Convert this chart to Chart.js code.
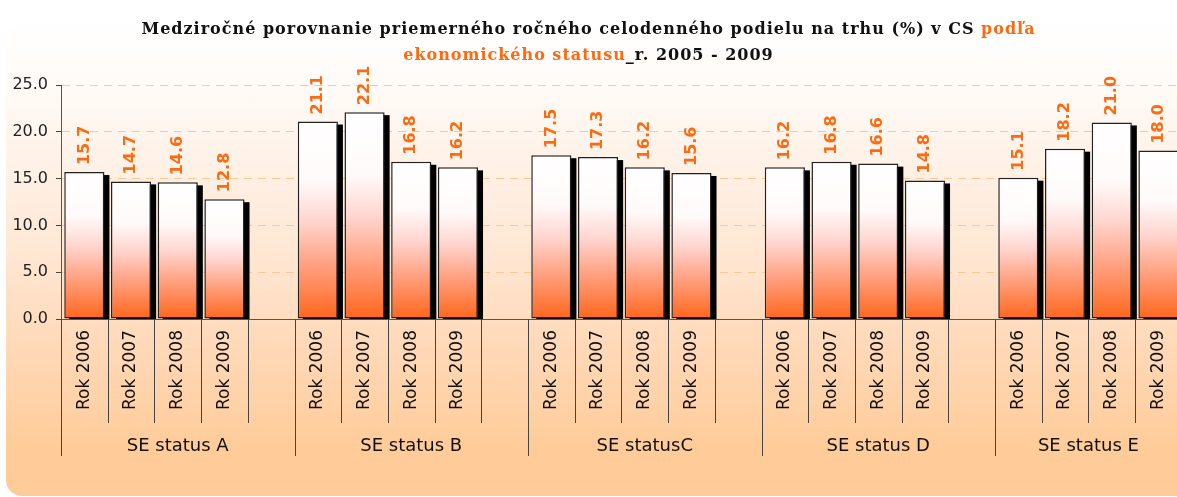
<!DOCTYPE html>
<html lang="sk">
<head>
<meta charset="utf-8">
<script src="https://cdn.jsdelivr.net/npm/chart.js@4.4.1/dist/chart.umd.min.js"></script>
<style>
    html, body { margin: 0; padding: 0; background: #fff; }
    body { width: 1177px; height: 497px; overflow: hidden; position: relative; }
    #panel {
        position: absolute; left: 6px; top: 22px; width: 1220px; height: 474px;
        border-radius: 16px;
        background: linear-gradient(to bottom, #ffffff 0%, #fffaf6 15%, #ffe6d2 50%, #ffd8b6 70%, #ffcc99 90%, #ffcb98 100%);
    }
    #title {
        position: absolute; left: 0; top: 16px; width: 1177px; text-align: center;
        font: bold 16px 'DejaVu Serif', serif; line-height: 26px; color: #111;
        letter-spacing: 1px;
    }
    #title .hl { color: #ff6a10; }
    #wrap { position: absolute; left: 0; top: 0; width: 1190px; height: 497px; }
</style>
</head>
<body>
<div id="panel"></div>
<div id="wrap"><canvas id="statusChart"></canvas></div>
<div id="title">Medziročné porovnanie priemerného ročného celodenného podielu na trhu (%) v CS <span class="hl">podľa</span><br><span class="hl">ekonomického statusu</span>_r. 2005 - 2009</div>
<script>
// Données
const groups = ['SE status A', 'SE status B', 'SE statusC', 'SE status D', 'SE status E'];
const years = ['Rok 2006', 'Rok 2007', 'Rok 2008', 'Rok 2009'];
const statusA = [15.7, 14.7, 14.6, 12.8];
const statusB = [21.1, 22.1, 16.8, 16.2];
const statusC = [17.5, 17.3, 16.2, 15.6];
const statusD = [16.2, 16.8, 16.6, 14.8];
const statusE = [15.1, 18.2, 21.0, 18.0];
const yTicks = [0, 5, 10, 15, 20, 25];

const groupValues = [statusA, statusB, statusC, statusD, statusE];

// 4 barres par groupe + un emplacement vide entre les groupes
const labels = [];
const values = [];
groupValues.forEach((vals, g) => {
    years.forEach((y, i) => { labels.push(y); values.push(vals[i]); });
    if (g < groupValues.length - 1) { labels.push(''); values.push(null); }
});

function barGradient(context) {
    const chart = context.chart;
    if (!chart.chartArea || context.raw == null) return '#ffffff';
    const yScale = chart.scales.y;
    const top = yScale.getPixelForValue(context.raw);
    const bottom = yScale.getPixelForValue(0);
    const g = chart.ctx.createLinearGradient(0, top, 0, bottom);
    g.addColorStop(0, '#ffffff');
    g.addColorStop(0.3, '#fffafa');
    g.addColorStop(0.5, '#ffd6d0');
    g.addColorStop(0.72, '#ffa282');
    g.addColorStop(1, '#ff661c');
    return g;
}

// Ombre noire décalée derrière les barres
const shadowPlugin = {
    id: 'barShadow',
    beforeDatasetsDraw(chart) {
        const { ctx, chartArea } = chart;
        const meta = chart.getDatasetMeta(0);
        ctx.save();
        ctx.beginPath();
        ctx.rect(chartArea.left, chartArea.top, chartArea.right - chartArea.left, chartArea.bottom - chartArea.top);
        ctx.clip();
        ctx.fillStyle = '#000';
        meta.data.forEach((bar, i) => {
            if (values[i] == null) return;
            const p = bar.getProps(['x', 'y', 'base', 'width'], true);
            ctx.fillRect(p.x - p.width / 2 + 5, p.y + 3, p.width, p.base - p.y);
        });
        ctx.restore();
    }
};

// Valeurs au-dessus des barres, en vertical
const valueLabels = {
    id: 'valueLabels',
    afterDatasetsDraw(chart) {
        const { ctx } = chart;
        const meta = chart.getDatasetMeta(0);
        ctx.save();
        ctx.font = 'bold 16px "DejaVu Sans"';
        ctx.fillStyle = '#ff6a10';
        ctx.textAlign = 'left';
        ctx.textBaseline = 'middle';
        meta.data.forEach((bar, i) => {
            if (values[i] == null) return;
            ctx.save();
            ctx.translate(bar.x, bar.y - 7);
            ctx.rotate(-Math.PI / 2);
            ctx.fillText(values[i].toFixed(1), 0, 0);
            ctx.restore();
        });
        ctx.restore();
    }
};

// Séparateurs verticaux et libellés de groupe sous l'axe X
const groupAxis = {
    id: 'groupAxis',
    afterDraw(chart) {
        const { ctx, chartArea } = chart;
        const slot = (chartArea.right - chartArea.left) / labels.length;
        const y0 = chartArea.bottom;
        ctx.save();
        ctx.strokeStyle = '#444';
        ctx.lineWidth = 1;
        for (let k = 0; k <= labels.length; k++) {
            const x = Math.round(chartArea.left + k * slot) + 0.5;
            ctx.beginPath();
            ctx.moveTo(x, y0);
            ctx.lineTo(x, k % 5 === 0 ? 456 : 423);
            ctx.stroke();
        }
        ctx.font = '18px "DejaVu Sans"';
        ctx.fillStyle = '#111';
        ctx.textAlign = 'center';
        ctx.textBaseline = 'middle';
        groups.forEach((name, g) => {
            const a = chartArea.left + g * 5 * slot;
            const b = chartArea.left + Math.min(g * 5 + 5, labels.length) * slot;
            ctx.fillText(name, (a + b) / 2, 446);
        });
        ctx.restore();
    }
};

const chartConfig = {
    type: 'bar',
    data: {
        labels: labels,
        datasets: [{
            data: values,
            backgroundColor: barGradient,
            borderColor: '#222',
            borderWidth: 1.5,
            borderSkipped: false,
            barPercentage: 0.86,
            categoryPercentage: 1.0
        }]
    },
    options: {
        responsive: false,
        animation: false,
        layout: { padding: { top: 85, right: 7, left: 0, bottom: 0 } },
        plugins: {
            legend: { display: false },
            tooltip: { enabled: false },
            title: { display: false }
        },
        scales: {
            x: {
                grid: { display: false, drawTicks: false },
                border: { display: true, color: '#555', width: 1 },
                ticks: {
                    autoSkip: false,
                    minRotation: 90,
                    maxRotation: 90,
                    padding: 11,
                    color: '#111',
                    font: { family: 'DejaVu Sans', size: 17 }
                },
                afterFit: (s) => { s.height = 178; }
            },
            y: {
                min: 0,
                max: 25,
                afterBuildTicks: (s) => { s.ticks = yTicks.map(v => ({ value: v })); },
                grid: {
                    color: '#ffc792',
                    tickColor: '#444',
                    tickLength: 5,
                    lineWidth: 1
                },
                border: { display: true, color: '#555', width: 1, dash: [8, 6] },
                ticks: {
                    padding: 8,
                    color: '#222',
                    font: { family: 'DejaVu Sans', size: 16 },
                    callback: (v) => Number(v).toFixed(1)
                },
                afterFit: (s) => { s.width = 61; }
            }
        }
    },
    plugins: [shadowPlugin, valueLabels, groupAxis]
};

const canvas = document.getElementById('statusChart');
canvas.width = 1190;
canvas.height = 497;
const chart = new Chart(canvas, chartConfig);
</script>
</body>
</html>
